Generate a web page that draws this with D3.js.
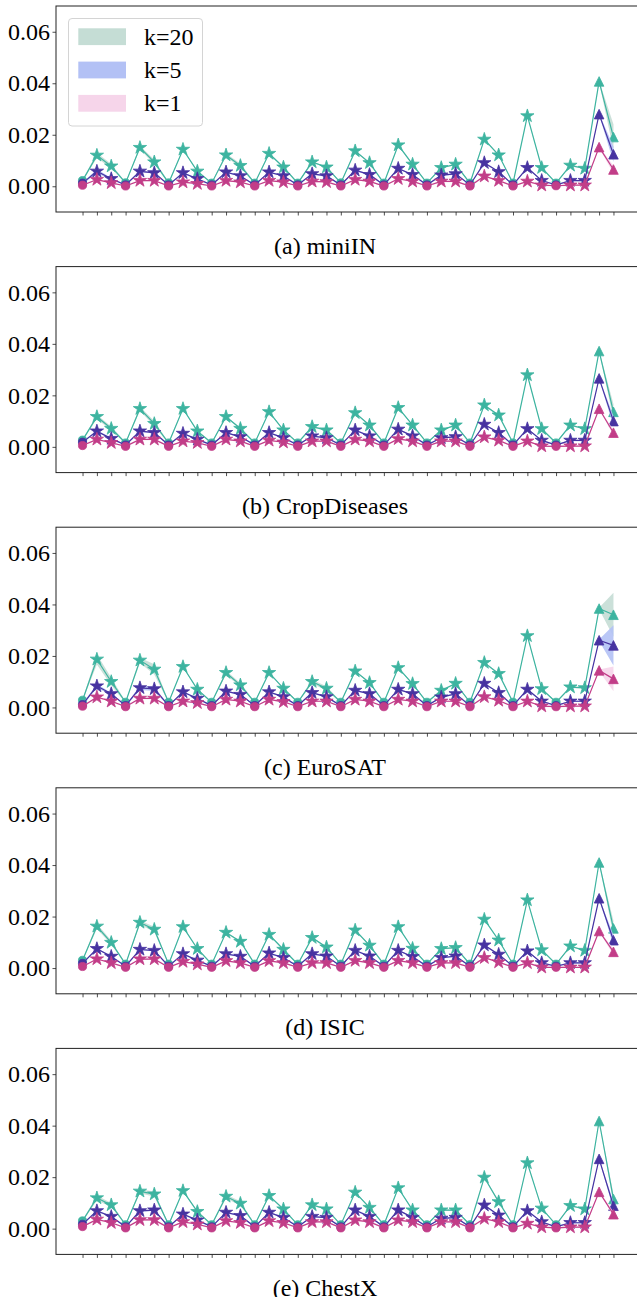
<!DOCTYPE html>
<html>
<head>
<meta charset="utf-8">
<script src="https://cdn.jsdelivr.net/npm/d3@7"></script>
<style>
  html, body { margin: 0; padding: 0; background: #fff; }
  svg { display: block; }
  text { font-family: "Liberation Serif", "Times New Roman", serif; fill: #000; }
</style>
</head>
<body>
<svg id="chart" width="637" height="1297"></svg>
<script>
// ---- data -------------------------------------------------------------
// 38 positions per panel; marker shape per position
const markers = ["o","*","*","o","*","*","o","*","*","o","*","*","o","*","*","o","*","*",
                 "o","*","*","o","*","*","o","*","*","o","*","*","o","*","*","o","*","*","^","^"];

const yTicks = [0, 0.02, 0.04, 0.06];
const seriesLabels = ["k=20", "k=5", "k=1"];
const datasets = ["(a) miniIN", "(b) CropDiseases", "(c) EuroSAT", "(d) ISIC", "(e) ChestX"];

// (a) miniIN
const miniIN_k20 = [0.0022,0.012,0.0078,0.0013,0.015,0.0094,0.0013,0.0143,0.0058,0.0012,0.0121,0.008,0.0012,0.0127,0.0074,0.0012,0.0094,0.0074,0.0013,0.0137,0.0091,0.0012,0.016,0.0085,0.0012,0.0072,0.0085,0.0012,0.0182,0.0121,0.0012,0.0273,0.0072,0.0012,0.0081,0.0069,0.0407,0.0191];
const miniIN_k5  = [0.0012,0.0058,0.0029,0.0005,0.0058,0.0052,0.0005,0.0052,0.0029,0.0005,0.0055,0.004,0.0005,0.0055,0.004,0.0005,0.0048,0.004,0.0005,0.0062,0.0045,0.0005,0.0069,0.0045,0.0005,0.0043,0.0048,0.0005,0.0091,0.0056,0.0005,0.0072,0.0022,0.0005,0.0022,0.0022,0.028,0.0124];
const miniIN_k1  = [0.0004,0.0026,0.0013,0.0001,0.0022,0.0022,0.0001,0.0016,0.001,0.0001,0.0022,0.0016,0.0001,0.0022,0.0016,0.0001,0.0019,0.0017,0.0001,0.0026,0.0019,0.0001,0.0029,0.0019,0.0001,0.0019,0.0019,0.0001,0.0039,0.0022,0.0001,0.0019,0.0004,0.0002,0.0004,0.0004,0.0152,0.0065];
// (b) CropDiseases
const crop_k20 = [0.0026,0.0117,0.0071,0.0015,0.0148,0.009,0.0015,0.0148,0.0061,0.0015,0.0117,0.0071,0.0015,0.0136,0.0065,0.0015,0.0078,0.0065,0.0015,0.0132,0.0084,0.0015,0.0152,0.0084,0.0015,0.0065,0.0084,0.0015,0.0162,0.0123,0.0015,0.0279,0.007,0.0015,0.0084,0.007,0.0372,0.0136];
const crop_k5  = [0.0018,0.0061,0.0032,0.0007,0.0061,0.0055,0.0007,0.0052,0.0029,0.0007,0.0055,0.0039,0.0007,0.0055,0.0035,0.0007,0.0042,0.0035,0.0007,0.0065,0.0042,0.0007,0.0068,0.0042,0.0007,0.0035,0.0039,0.0007,0.0087,0.0055,0.0007,0.007,0.0025,0.0007,0.0025,0.0025,0.0266,0.01];
const crop_k1  = [0.0005,0.0029,0.0016,0.0002,0.0029,0.0029,0.0002,0.0022,0.0016,0.0002,0.0029,0.0022,0.0002,0.0025,0.0018,0.0002,0.0022,0.0022,0.0002,0.0029,0.0022,0.0002,0.0031,0.0022,0.0002,0.0022,0.0022,0.0002,0.0038,0.0025,0.0002,0.0022,0.0003,0.0002,0.0003,0.0003,0.0148,0.0055];
// (c) EuroSAT
const euro_k20 = [0.0028,0.0187,0.01,0.002,0.0183,0.0148,0.002,0.0158,0.007,0.002,0.0135,0.0087,0.002,0.0135,0.0074,0.002,0.01,0.0074,0.002,0.0141,0.0096,0.002,0.0154,0.0092,0.002,0.0066,0.0093,0.002,0.0174,0.0131,0.002,0.0278,0.0072,0.002,0.0079,0.0076,0.0384,0.036];
const euro_k5  = [0.0011,0.0083,0.0053,0.0007,0.0076,0.0072,0.0007,0.006,0.0035,0.0007,0.0063,0.005,0.0007,0.006,0.0041,0.0007,0.0057,0.0041,0.0007,0.0066,0.0053,0.0007,0.007,0.0053,0.0007,0.004,0.0053,0.0007,0.0093,0.0057,0.0007,0.007,0.0024,0.0007,0.0024,0.0024,0.0261,0.0241];
const euro_k1  = [0.0005,0.004,0.0024,0.0003,0.0035,0.0035,0.0003,0.0024,0.0018,0.0003,0.0031,0.0024,0.0003,0.0031,0.0022,0.0003,0.0024,0.0024,0.0003,0.0031,0.0024,0.0003,0.0031,0.0024,0.0003,0.0024,0.0024,0.0003,0.0041,0.0027,0.0003,0.0024,0.0005,0.0003,0.0005,0.0005,0.0144,0.0111];
// (d) ISIC
const isic_k20 = [0.003,0.0162,0.0099,0.0015,0.0177,0.015,0.0015,0.016,0.0075,0.0015,0.0138,0.0103,0.0015,0.013,0.0072,0.0015,0.0118,0.0081,0.0015,0.0147,0.0088,0.0015,0.016,0.0076,0.0015,0.0075,0.0079,0.0015,0.0189,0.0108,0.0015,0.0264,0.007,0.0015,0.0085,0.0068,0.041,0.0154];
const isic_k5  = [0.0018,0.0075,0.0045,0.0007,0.0072,0.0068,0.0007,0.0055,0.003,0.0007,0.0055,0.0045,0.0007,0.0058,0.004,0.0007,0.0055,0.0046,0.0007,0.0068,0.0046,0.0007,0.0068,0.0044,0.0007,0.004,0.0046,0.0007,0.0089,0.0053,0.0007,0.0066,0.002,0.0007,0.002,0.002,0.0271,0.0108];
const isic_k1  = [0.0006,0.0035,0.002,0.0003,0.0035,0.0035,0.0003,0.0025,0.0015,0.0003,0.0028,0.002,0.0003,0.0028,0.002,0.0003,0.002,0.002,0.0003,0.0029,0.002,0.0003,0.0029,0.002,0.0003,0.002,0.002,0.0003,0.004,0.0023,0.0003,0.002,0.0003,0.0003,0.0003,0.0003,0.0144,0.0063];
// (e) ChestX
const chest_k20 = [0.003,0.0119,0.0092,0.0015,0.0145,0.0134,0.0015,0.0147,0.0066,0.0015,0.0125,0.0098,0.0015,0.0128,0.0076,0.0015,0.0092,0.0076,0.0015,0.0141,0.0082,0.0015,0.0158,0.0072,0.0015,0.0072,0.0072,0.0015,0.0199,0.0104,0.0015,0.0255,0.0079,0.0015,0.0089,0.0076,0.0418,0.0115];
const chest_k5  = [0.0017,0.0069,0.0047,0.0007,0.0069,0.0072,0.0007,0.0056,0.0033,0.0007,0.0063,0.005,0.0007,0.0063,0.0043,0.0007,0.0047,0.0043,0.0007,0.0072,0.0047,0.0007,0.0072,0.0043,0.0007,0.004,0.0043,0.0007,0.0091,0.0052,0.0007,0.0069,0.0026,0.0007,0.0023,0.0023,0.0271,0.0089];
const chest_k1  = [0.0008,0.0036,0.0023,0.0003,0.0034,0.0034,0.0003,0.0026,0.0017,0.0003,0.003,0.0023,0.0003,0.003,0.0023,0.0003,0.0026,0.0026,0.0003,0.0033,0.0026,0.0003,0.0033,0.0026,0.0003,0.0026,0.0026,0.0003,0.0039,0.0026,0.0003,0.002,0.0006,0.0003,0.0006,0.0006,0.0143,0.0056];

// spread (std) around each curve: [index, value] pairs; other points use a small base spread
const baseStd = 0.0003;
const miniIN_std20 = [[1,0.001],[2,0.0008],[4,0.0006],[5,0.001],[10,0.0006],[11,0.0008],[37,0.005]];
const miniIN_std5  = [[1,0.0008],[37,0.003]];
const miniIN_std1  = [[37,0.0015]];
const crop_std20 = [[1,0.0008],[2,0.0008],[4,0.0008],[5,0.001],[37,0.003]];
const crop_std5  = [[37,0.002]];
const crop_std1  = [[37,0.001]];
const euro_std20 = [[1,0.002],[2,0.0015],[4,0.001],[5,0.002],[10,0.0008],[11,0.0008],[16,0.0008],[17,0.0008],[37,0.0085]];
const euro_std5  = [[1,0.0008],[4,0.0008],[5,0.0008],[37,0.0078]];
const euro_std1  = [[37,0.0048]];
const isic_std20 = [[1,0.001],[2,0.0008],[4,0.0008],[5,0.001],[37,0.003]];
const isic_std5  = [[37,0.002]];
const isic_std1  = [[37,0.0012]];
const chest_std20 = [[1,0.001],[2,0.0008],[4,0.0008],[5,0.001],[10,0.0008],[11,0.0008],[37,0.002]];
const chest_std5  = [[37,0.0015]];
const chest_std1  = [[37,0.001]];

const panels = [
  { title: datasets[0], series: [miniIN_k20, miniIN_k5, miniIN_k1], std: [miniIN_std20, miniIN_std5, miniIN_std1] },
  { title: datasets[1], series: [crop_k20, crop_k5, crop_k1],       std: [crop_std20, crop_std5, crop_std1] },
  { title: datasets[2], series: [euro_k20, euro_k5, euro_k1],       std: [euro_std20, euro_std5, euro_std1] },
  { title: datasets[3], series: [isic_k20, isic_k5, isic_k1],       std: [isic_std20, isic_std5, isic_std1] },
  { title: datasets[4], series: [chest_k20, chest_k5, chest_k1],    std: [chest_std20, chest_std5, chest_std1] }
];

// ---- styles -----------------------------------------------------------
const lineColors = ["#3db4a0", "#4733a1", "#c23d88"];
const bandColors = ["#c5ddd5", "#b3c1f5", "#f6d5ea"];

const left = 56, right = 640;
const panelTop0 = 6, panelStep = 260.6, panelH = 206;
const captionOffset = 239.5;
const fontSize = 24;

const svg = d3.select("#chart");

const x = d3.scaleLinear().domain([-1.85, 38.85]).range([left, right]);

// marker path generators
function starPath(r) {
  const ri = r * 0.382;
  const pts = [];
  for (let i = 0; i < 10; i++) {
    const a = -Math.PI / 2 + i * Math.PI / 5;
    const rr = i % 2 === 0 ? r : ri;
    pts.push([rr * Math.cos(a), rr * Math.sin(a)]);
  }
  return "M" + pts.map(p => p[0].toFixed(2) + "," + p[1].toFixed(2)).join("L") + "Z";
}
function trianglePath(h) {
  return `M0,${-h}L${-h},${h}L${h},${h}Z`;
}
const markerPath = {
  "*": starPath(7),
  "^": trianglePath(4.8),
  "o": d3.symbol(d3.symbolCircle, Math.PI * 4.1 * 4.1)()
};

panels.forEach((p, pi) => {
  const top = panelTop0 + pi * panelStep;
  const bottom = top + panelH;
  const y = d3.scaleLinear().domain([-0.01, 0.07]).range([bottom, top]);

  const g = svg.append("g");
  const clipId = "clip" + pi;
  g.append("clipPath").attr("id", clipId)
    .append("rect").attr("x", left).attr("y", top).attr("width", right - left).attr("height", panelH);

  const plot = g.append("g").attr("clip-path", `url(#${clipId})`);

  p.series.forEach((vals, si) => {
    const stdMap = new Map(p.std[si]);
    const pts = vals.map((v, i) => ({ i, v, s: stdMap.has(i) ? stdMap.get(i) : baseStd }));

    // spread band
    plot.append("path")
      .datum(pts)
      .attr("fill", bandColors[si])
      .attr("fill-opacity", 0.9)
      .attr("d", d3.area().x(d => x(d.i)).y0(d => y(d.v - d.s)).y1(d => y(d.v + d.s)));

    // curve
    plot.append("path")
      .datum(pts)
      .attr("fill", "none")
      .attr("stroke", lineColors[si])
      .attr("stroke-width", 1.2)
      .attr("d", d3.line().x(d => x(d.i)).y(d => y(d.v)));

    // markers
    plot.selectAll(null)
      .data(pts)
      .join("path")
      .attr("transform", d => `translate(${x(d.i)},${y(d.v)})`)
      .attr("d", d => markerPath[markers[d.i]])
      .attr("fill", lineColors[si])
      .attr("stroke", lineColors[si])
      .attr("stroke-width", 0.8);
  });

  // frame
  g.append("rect")
    .attr("x", left).attr("y", top).attr("width", right - left).attr("height", panelH)
    .attr("fill", "none").attr("stroke", "#222").attr("stroke-width", 1);

  // y axis
  const yAxis = d3.axisLeft(y).tickValues(yTicks).tickFormat(d3.format(".2f")).tickSize(3.5).tickPadding(2.5);
  const ya = g.append("g").attr("transform", `translate(${left},0)`).call(yAxis);
  ya.select(".domain").remove();
  ya.selectAll(".tick line").attr("stroke", "#222").attr("stroke-width", 0.8);
  ya.selectAll(".tick text")
    .style("font-family", '"Liberation Serif", serif')
    .style("font-size", fontSize + "px")
    .attr("fill", "#000");

  // x axis: ticks only
  const xAxis = d3.axisBottom(x).tickValues(d3.range(markers.length)).tickFormat("").tickSize(3.5);
  const xa = g.append("g").attr("transform", `translate(0,${bottom})`).call(xAxis);
  xa.select(".domain").remove();
  xa.selectAll(".tick line").attr("stroke", "#222").attr("stroke-width", 0.8);

  // caption
  g.append("text")
    .attr("x", 325).attr("y", top + captionOffset)
    .attr("text-anchor", "middle").attr("dominant-baseline", "central")
    .style("font-family", '"Liberation Serif", serif')
    .style("font-size", fontSize + "px")
    .text(p.title);

  // legend (first panel)
  if (pi === 0) {
    const lg = g.append("g");
    lg.append("rect")
      .attr("x", 68.5).attr("y", top + 12.5).attr("width", 134).attr("height", 107.5)
      .attr("rx", 3.5).attr("fill", "#fff").attr("fill-opacity", 0.85)
      .attr("stroke", "#d4d4d4").attr("stroke-width", 1);
    seriesLabels.forEach((lab, si) => {
      const cy = top + 30.7 + si * 33.3;
      lg.append("rect")
        .attr("x", 78.3).attr("y", cy - 8.4).attr("width", 47.7).attr("height", 16.8)
        .attr("fill", bandColors[si]);
      lg.append("text")
        .attr("x", 144).attr("y", cy)
        .attr("dominant-baseline", "central")
        .style("font-family", '"Liberation Serif", serif')
        .style("font-size", fontSize + "px")
        .text(lab);
    });
  }
});
</script>
</body>
</html>
